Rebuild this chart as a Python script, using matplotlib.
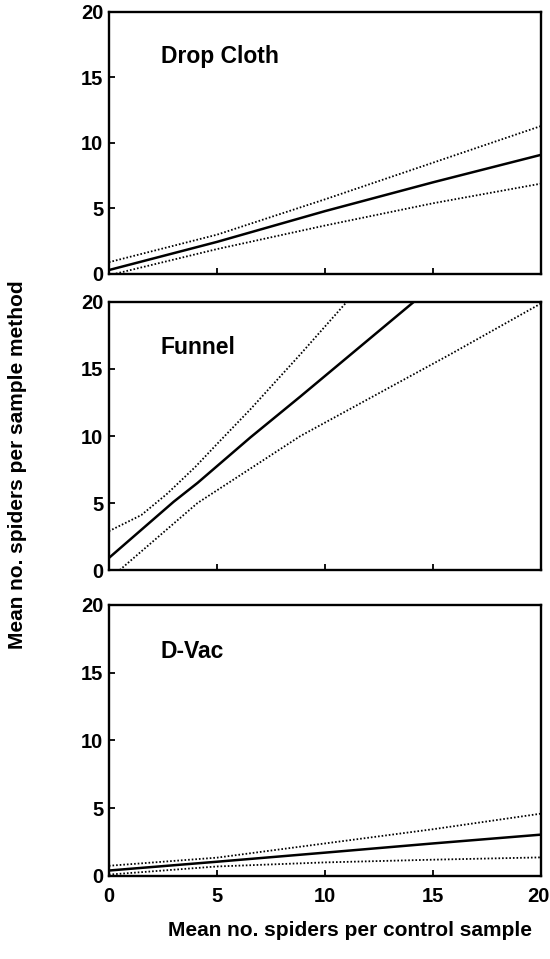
"""Regression of sample-method counts against control counts, three methods stacked."""

import matplotlib
matplotlib.use("Agg")
import matplotlib.pyplot as plt
from matplotlib.transforms import ScaledTranslation

plt.rcParams["font.family"] = ["Liberation Sans", "DejaVu Sans"]
plt.rcParams["font.weight"] = "bold"

# x positions (mean spiders per control sample) and fitted lines / confidence bands
DROP_X = [0, 5, 10, 15, 20]
DROP_FIT = [0.3, 2.45, 4.8, 7.0, 9.1]
DROP_UPPER = [0.9, 3.0, 5.7, 8.5, 11.3]
DROP_LOWER = [-0.1, 1.9, 3.7, 5.4, 6.9]

FUNNEL_FIT_X = [0, 3.0, 4.1, 6.55, 8.86, 14.1]
FUNNEL_FIT = [0.9, 5.1, 6.5, 9.9, 12.95, 20.0]
FUNNEL_UPPER_X = [0, 1.5, 2.7, 4.0, 5.0, 6.55, 8.86, 11.0]
FUNNEL_UPPER = [2.9, 4.1, 5.7, 7.7, 9.4, 12.0, 16.1, 20.0]
FUNNEL_LOWER_X = [0.5, 4.1, 8.86, 15.8, 20]
FUNNEL_LOWER = [0.0, 5.0, 10.0, 16.1, 19.9]

DVAC_X = [0, 5, 10, 15, 20]
DVAC_FIT = [0.4, 1.05, 1.72, 2.4, 3.05]
DVAC_UPPER = [0.75, 1.35, 2.4, 3.45, 4.6]
DVAC_LOWER = [0.1, 0.7, 1.0, 1.2, 1.37]

TICKS = [0, 5, 10, 15, 20]
PANEL_NAMES = ["Drop Cloth", "Funnel", "D-Vac"]

panels = [
    (DROP_X, DROP_FIT, DROP_X, DROP_UPPER, DROP_X, DROP_LOWER),
    (FUNNEL_FIT_X, FUNNEL_FIT, FUNNEL_UPPER_X, FUNNEL_UPPER, FUNNEL_LOWER_X, FUNNEL_LOWER),
    (DVAC_X, DVAC_FIT, DVAC_X, DVAC_UPPER, DVAC_X, DVAC_LOWER),
]

# axes boxes in figure fractions: left, bottom, width, height
boxes = [
    [0.198, 0.7143, 0.786, 0.2732],
    [0.198, 0.4056, 0.786, 0.2795],
    [0.198, 0.0866, 0.786, 0.2826],
]

fig = plt.figure(figsize=(5.5, 9.59), dpi=100)
dotted = (0, (0.9, 1.1))

for i, (name, data, box) in enumerate(zip(PANEL_NAMES, panels, boxes)):
    fx, fy, ux, uy, lx, ly = data
    ax = fig.add_axes(box)
    ax.plot(fx, fy, color="black", lw=1.8)
    ax.plot(ux, uy, color="black", lw=1.3, linestyle=dotted)
    ax.plot(lx, ly, color="black", lw=1.3, linestyle=dotted)
    ax.set_xlim(0, 20)
    ax.set_ylim(0, 20)
    ax.set_xticks(TICKS)
    ax.set_yticks(TICKS)
    ax.tick_params(direction="in", length=4, width=1.3, labelsize=14.5, pad=4)
    ax.tick_params(axis="x", pad=8)
    if i < 2:
        ax.set_xticklabels([])
    else:
        # last label sits against the right edge, as in the original
        last = ax.get_xticklabels()[-1]
        last.set_ha("right")
        last.set_transform(last.get_transform() + ScaledTranslation(0.08, 0, fig.dpi_scale_trans))
    for sp in ax.spines.values():
        sp.set_linewidth(1.7)
    ax.text(2.4, 16.6, name, fontsize=16.5, fontweight="bold", va="center", ha="left")

fig.text(0.636, 0.030, "Mean no. spiders per control sample", fontsize=15,
         fontweight="bold", ha="center", va="center")
fig.text(0.031, 0.515, "Mean no. spiders per sample method", fontsize=15,
         fontweight="bold", ha="center", va="center", rotation=90)

fig.savefig("out.png", dpi=100)
